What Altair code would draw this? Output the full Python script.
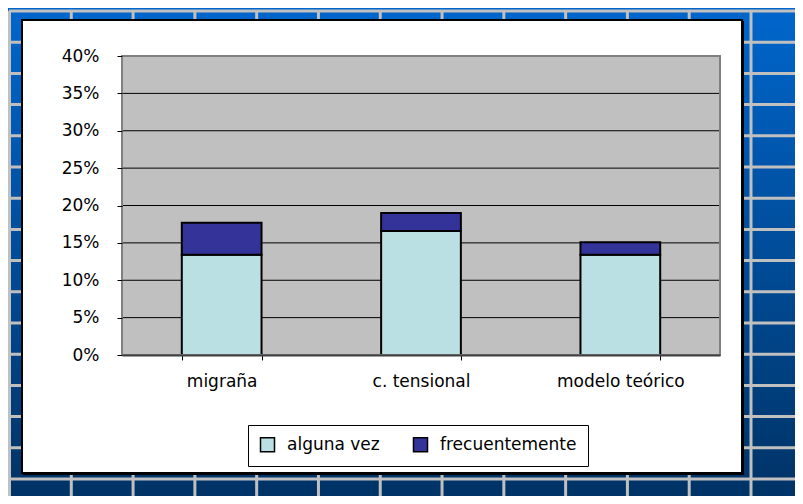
import altair as alt
import pandas as pd

# ---- data ----
categories = ["migraña", "c. tensional", "modelo teórico"]
series = ["alguna vez", "frecuentemente"]
alguna_vez = [0.134, 0.166, 0.134]
frecuentemente = [0.043, 0.024, 0.017]
y_ticks = [0, 0.05, 0.10, 0.15, 0.20, 0.25, 0.30, 0.35, 0.40]
series_colors = ["#BBE0E3", "#333399"]

rows = []
for i, c in enumerate(categories):
    rows.append({"cat": c, "serie": series[0], "value": alguna_vez[i], "o": 0})
    rows.append({"cat": c, "serie": series[1], "value": frecuentemente[i], "o": 1})
df = pd.DataFrame(rows)

# decoration indices (background slide grid)
bg_cols = list(range(13))
bg_rows = list(range(16))

W, H = 598, 299
PL, PT, PR, PB = 114, 48, 75, 141
FONT = "DejaVu Sans"

one = alt.Data(values=[{}])

# slide gradient background
bg = alt.Chart(one).mark_rect(
    color=alt.Gradient(
        gradient="linear",
        stops=[alt.GradientStop(color="#0066CC", offset=0),
               alt.GradientStop(color="#003366", offset=1)],
        x1=0, x2=0, y1=0, y2=1,
    )
).encode(x=alt.value(-PL), x2=alt.value(W + PR), y=alt.value(-PT), y2=alt.value(H + PB))

vlines = alt.Chart(alt.Data(values=[{"c": c} for c in bg_cols])).mark_rule(
    color="#C0C0C0", strokeWidth=3
).encode(
    x=alt.X("c:Q", scale=alt.Scale(domain=[0, 12], range=[-112.5, 629]), axis=None),
    y=alt.value(-45), y2=alt.value(H + PB),
)

hlines = alt.Chart(alt.Data(values=[{"r": r} for r in bg_rows])).mark_rule(
    color="#C0C0C0", strokeWidth=3
).encode(
    y=alt.Y("r:Q", scale=alt.Scale(domain=[0, 15], range=[-45, 423]), axis=None),
    x=alt.value(-113), x2=alt.value(W + PR),
)

# white chart area with black frame
shadow = alt.Chart(one).mark_rect(color="#000000").encode(
    x=alt.value(-99), x2=alt.value(622), y=alt.value(-35), y2=alt.value(419)
)
box = alt.Chart(one).mark_rect(color="white", stroke="black", strokeWidth=2).encode(
    x=alt.value(-100), x2=alt.value(620), y=alt.value(-36), y2=alt.value(417)
)

# gray plot area
plotbg = alt.Chart(one).mark_rect(color="#C0C0C0").encode(
    x=alt.value(0), x2=alt.value(W), y=alt.value(0), y2=alt.value(H)
)

yscale = alt.Scale(domain=[0, 0.4], nice=False)

grid = alt.Chart(alt.Data(values=[{"v": v} for v in y_ticks])).mark_rule(
    color="#000000", strokeWidth=1
).encode(
    y=alt.Y("v:Q", scale=yscale, axis=None),
    x=alt.value(0), x2=alt.value(W),
)

bars = alt.Chart(df).mark_bar(stroke="black", strokeWidth=2, opacity=1).encode(
    x=alt.X(
        "cat:N", sort=categories,
        scale=alt.Scale(paddingInner=0.6, paddingOuter=0.3),
        axis=alt.Axis(
            title=None, labelAngle=0, tickBand="extent", tickSize=5,
            tickColor="black", domainColor="#404040", domainWidth=2,
            labelFont=FONT, labelFontSize=17, labelColor="black",
            labelPadding=13, zindex=1,
        ),
    ),
    y=alt.Y(
        "value:Q", stack="zero", scale=yscale,
        axis=alt.Axis(
            title=None, values=y_ticks, format=".0%", grid=False,
            tickSize=5, tickColor="black", domain=False,
            labelFont=FONT, labelFontSize=17, labelColor="black",
            labelPadding=18, zindex=1,
        ),
    ),
    color=alt.Color(
        "serie:N", sort=series,
        scale=alt.Scale(domain=series, range=series_colors),
        legend=alt.Legend(
            title=None, orient="none", legendX=126, legendY=369,
            direction="horizontal", symbolType="square", symbolSize=196,
            symbolStrokeColor="black", symbolStrokeWidth=1.5, symbolOpacity=1,
            labelFont=FONT, labelFontSize=17, labelColor="black",
            fillColor="white", strokeColor="black", padding=11,
            columnPadding=30, labelOffset=11,
        ),
    ),
    order=alt.Order("o:Q", sort="ascending"),
)

border = alt.Chart(one).mark_rect(filled=False, stroke="#808080", strokeWidth=2).encode(
    x=alt.value(0), x2=alt.value(W), y=alt.value(0), y2=alt.value(H)
)

chart = alt.layer(
    bg, vlines, hlines, shadow, box, plotbg, grid, bars, border
).resolve_scale(
    x="independent", y="independent"
).properties(
    width=W, height=H,
    padding={"left": PL, "top": PT, "right": PR, "bottom": PB},
    autosize=alt.AutoSizeParams(type="none"),
    background="white",
).configure_view(stroke=None)

chart.save("out.html", embed_options={"renderer": "svg", "actions": False})
